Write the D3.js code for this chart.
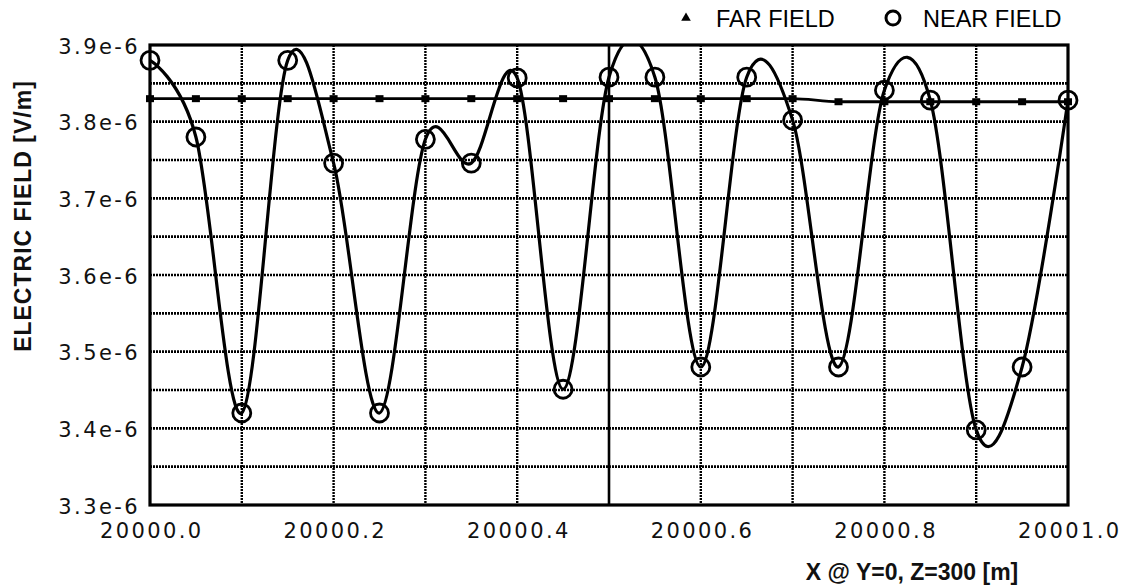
<!DOCTYPE html>
<html>
<head>
<meta charset="utf-8">
<script src="https://cdn.jsdelivr.net/npm/d3@7"></script>
<style>
  body { margin: 0; background: #fff; }
  svg { display: block; }
</style>
</head>
<body>
<div id="chart"></div>
<script>
// x positions along the line (m), sampled every 0.05
var xValues = [20000.00, 20000.05, 20000.10, 20000.15, 20000.20, 20000.25, 20000.30,
               20000.35, 20000.40, 20000.45, 20000.50, 20000.55, 20000.60, 20000.65,
               20000.70, 20000.75, 20000.80, 20000.85, 20000.90, 20000.95, 20001.00];

// near field values (V/m)
var nearField = [3.880e-6, 3.780e-6, 3.420e-6, 3.880e-6, 3.746e-6, 3.420e-6, 3.777e-6,
                 3.746e-6, 3.857e-6, 3.451e-6, 3.858e-6, 3.858e-6, 3.480e-6, 3.858e-6,
                 3.802e-6, 3.480e-6, 3.841e-6, 3.828e-6, 3.398e-6, 3.480e-6, 3.828e-6];

// far field values (V/m)
var farField = [3.830e-6, 3.830e-6, 3.830e-6, 3.830e-6, 3.830e-6, 3.830e-6, 3.830e-6,
                3.830e-6, 3.830e-6, 3.830e-6, 3.830e-6, 3.830e-6, 3.830e-6, 3.830e-6,
                3.830e-6, 3.826e-6, 3.826e-6, 3.826e-6, 3.826e-6, 3.826e-6, 3.826e-6];

var xTicks = [20000.0, 20000.2, 20000.4, 20000.6, 20000.8, 20001.0];
var xGrid = [20000.1, 20000.2, 20000.3, 20000.4, 20000.5, 20000.6, 20000.7, 20000.8, 20000.9];
var yTicks = [3.3e-6, 3.4e-6, 3.5e-6, 3.6e-6, 3.7e-6, 3.8e-6, 3.9e-6];
var yGrid = [3.35e-6, 3.4e-6, 3.45e-6, 3.5e-6, 3.55e-6, 3.6e-6, 3.65e-6, 3.7e-6, 3.75e-6, 3.8e-6, 3.85e-6];
var yTickLabels = ["3.3e-6", "3.4e-6", "3.5e-6", "3.6e-6", "3.7e-6", "3.8e-6", "3.9e-6"];

(function() {
  'use strict';
  var W = 1125, H = 588;
  // plot box (window.top is reserved, so use own names)
  var pL = 150, pR = 1068, pT = 45, pB = 505;

  var svg = d3.select("#chart").append("svg")
      .attr("width", W)
      .attr("height", H);

  var x = d3.scaleLinear().domain([20000, 20001]).range([pL, pR]);
  var y = d3.scaleLinear().domain([3.3e-6, 3.9e-6]).range([pB, pT]);

  // clip for the curves
  svg.append("clipPath").attr("id", "plotClip")
    .append("rect")
      .attr("x", pL).attr("y", pT)
      .attr("width", pR - pL).attr("height", pB - pT);

  // grid lines (fuzzy dotted, like the scanned plot)
  svg.append("g")
    .selectAll("line")
    .data(yGrid)
    .enter().append("line")
      .attr("x1", pL).attr("x2", pR)
      .attr("y1", function(d) { return y(d); })
      .attr("y2", function(d) { return y(d); })
      .attr("stroke", "#000")
      .attr("stroke-width", 2.6)
      .attr("stroke-dasharray", "2,1");

  svg.append("g")
    .selectAll("line")
    .data(xGrid)
    .enter().append("line")
      .attr("y1", pT).attr("y2", pB)
      .attr("x1", function(d) { return x(d); })
      .attr("x2", function(d) { return x(d); })
      .attr("stroke", "#000")
      .attr("stroke-width", function(d) { return Math.abs(d - 20000.5) < 1e-6 ? 2.6 : 2.4; })
      .attr("stroke-dasharray", function(d) { return Math.abs(d - 20000.5) < 1e-6 ? null : "2,1"; });

  // plot frame
  svg.append("rect")
      .attr("x", pL).attr("y", pT)
      .attr("width", pR - pL).attr("height", pB - pT)
      .attr("fill", "none")
      .attr("stroke", "#000")
      .attr("stroke-width", 3.2);

  // axes (labels only, the frame draws the lines)
  var xAxis = d3.axisBottom(x)
      .tickValues(xTicks)
      .tickSize(0)
      .tickPadding(0)
      .tickFormat(d3.format(".1f"));

  var gx = svg.append("g")
      .attr("transform", "translate(0," + pB + ")")
      .call(xAxis);
  gx.select(".domain").remove();
  gx.selectAll("text")
      .attr("y", 33)
      .attr("dy", null)
      .attr("dx", "1.2")
      .style("font-family", "'DejaVu Sans', sans-serif")
      .style("font-size", "21px")
      .style("letter-spacing", "2.4px")
      .attr("fill", "#111");

  var yAxis = d3.axisLeft(y)
      .tickValues(yTicks)
      .tickSize(0)
      .tickPadding(0)
      .tickFormat(function(d, i) { return yTickLabels[i]; });

  var gy = svg.append("g")
      .attr("transform", "translate(" + (pL - 10) + ",0)")
      .call(yAxis);
  gy.select(".domain").remove();
  gy.selectAll("text")
      .attr("x", 0)
      .attr("dy", "0.62em")
      .attr("y", -5)
      .style("font-family", "'DejaVu Sans', sans-serif")
      .style("font-size", "21px")
      .style("letter-spacing", "2.4px")
      .attr("fill", "#111");

  // axis titles
  svg.append("text")
      .attr("transform", "translate(31,216) rotate(-90)")
      .attr("text-anchor", "middle")
      .style("font-family", "'Liberation Sans', Arial, sans-serif")
      .style("font-weight", "bold")
      .style("font-size", "23px")
      .style("letter-spacing", "1px")
      .attr("fill", "#111")
      .text("ELECTRIC FIELD [V/m]");

  svg.append("text")
      .attr("x", 912).attr("y", 580)
      .attr("text-anchor", "middle")
      .style("font-family", "'Liberation Sans', Arial, sans-serif")
      .style("font-weight", "bold")
      .style("font-size", "23px")
      .attr("fill", "#111")
      .text("X @ Y=0, Z=300 [m]");

  var farData = xValues.map(function(d, i) { return { x: d, v: farField[i] }; });
  var nearData = xValues.map(function(d, i) { return { x: d, v: nearField[i] }; });

  // far field line + markers
  var farLine = d3.line()
      .x(function(d) { return x(d.x); })
      .y(function(d) { return y(d.v); })
      .curve(d3.curveMonotoneX);

  svg.append("path")
      .datum(farData)
      .attr("clip-path", "url(#plotClip)")
      .attr("d", farLine)
      .attr("fill", "none")
      .attr("stroke", "#000")
      .attr("stroke-width", 2.8);

  svg.append("g")
    .selectAll("rect")
    .data(farData)
    .enter().append("rect")
      .attr("x", function(d) { return x(d.x) - 4; })
      .attr("y", function(d) { return y(d.v) - 3.5; })
      .attr("width", 8)
      .attr("height", 7)
      .attr("fill", "#000");

  // near field spline + circles
  var nearLine = d3.line()
      .x(function(d) { return x(d.x); })
      .y(function(d) { return y(d.v); })
      .curve(d3.curveCardinal.tension(0));

  svg.append("path")
      .datum(nearData)
      .attr("clip-path", "url(#plotClip)")
      .attr("d", nearLine)
      .attr("fill", "none")
      .attr("stroke", "#000")
      .attr("stroke-width", 3.2);

  svg.append("g")
    .selectAll("circle")
    .data(nearData)
    .enter().append("circle")
      .attr("cx", function(d) { return x(d.x); })
      .attr("cy", function(d) { return y(d.v); })
      .attr("r", 9)
      .attr("fill", "none")
      .attr("stroke", "#000")
      .attr("stroke-width", 2.8);

  // legend
  var legend = svg.append("g");
  legend.append("path")
      .attr("d", d3.symbol().type(d3.symbolTriangle).size(40)())
      .attr("transform", "translate(686,18)")
      .attr("fill", "#000");
  legend.append("text")
      .attr("x", 716).attr("y", 27)
      .style("font-family", "'Liberation Sans', Arial, sans-serif")
      .style("font-size", "23.5px")
      .attr("fill", "#000")
      .text("FAR FIELD");
  legend.append("circle")
      .attr("cx", 893).attr("cy", 18)
      .attr("r", 7)
      .attr("fill", "none")
      .attr("stroke", "#000")
      .attr("stroke-width", 3);
  legend.append("text")
      .attr("x", 923).attr("y", 27)
      .style("font-family", "'Liberation Sans', Arial, sans-serif")
      .style("font-size", "23.5px")
      .attr("fill", "#000")
      .text("NEAR FIELD");
})();
</script>
</body>
</html>
